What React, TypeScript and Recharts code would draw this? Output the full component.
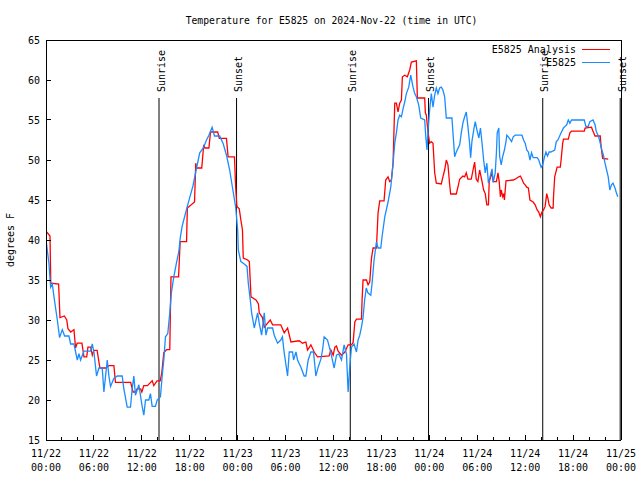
import React from "react";
import {
  LineChart, Line, XAxis, YAxis, ReferenceLine, Legend,
} from "recharts";

// observed station temps (hours since 11/22 00:00 UTC, deg F)
const obsHours = [
  0, 0.08, 0.375, 0.58, 0.79, 1, 1.2, 1.42, 1.7, 2.04, 2.33, 2.875, 3.08, 3.5, 3.92, 4.125, 4.33, 4.75, 5.58, 5.79,
  6, 6.33, 6.625, 7.04, 7.25, 7.67, 7.875, 8.08, 8.5, 8.92, 9.54, 9.75, 10.17, 10.58, 10.79, 11, 11.2, 11.625, 12.04, 12.25,
  12.46, 12.875, 13.08, 13.29, 13.7, 13.92, 14.33, 14.54, 14.75, 14.96, 15.25, 15.5, 15.7, 16, 16.33, 16.625, 16.83, 17.04, 17.25, 17.67,
  18.08, 18.4, 18.8, 19.25, 19.7, 20.1, 20.4, 20.8, 21.1, 21.75, 22.2, 22.6, 23, 23.4, 23.75, 24, 24.08, 24.4, 24.83, 25.17,
  25.33, 25.58, 25.75, 26.08, 26.3, 26.5, 26.7, 27, 27.33, 27.54, 27.75, 28.375, 28.58, 29, 29.4, 29.6, 29.83, 30.25, 30.46, 30.875,
  31, 31.3, 31.5, 31.92, 32.33, 32.54, 32.83, 33.17, 33.5, 33.79, 34.08, 34.42, 34.625, 34.83, 35.25, 35.67, 36.08, 36.375, 36.67, 37,
  37.33, 37.625, 37.83, 38.04, 38.25, 38.58, 38.875, 39.08, 39.29, 39.5, 39.7, 39.9, 40.1, 40.3, 40.67, 40.83, 41.08, 41.375, 41.58, 41.92,
  42.08, 42.42, 42.83, 43.17, 43.46, 43.67, 43.875, 44.08, 44.29, 44.5, 44.71, 44.92, 45.125, 45.42, 45.67, 45.96, 46.17, 46.375, 46.67, 46.92,
  47.42, 47.54, 47.71, 47.83, 48.04, 48.25, 48.46, 48.67, 48.875, 49.08, 49.29, 49.5, 49.7, 49.92, 50.125, 50.83, 50.96, 51.17, 51.375, 51.8,
  52, 52.2, 52.42, 52.625, 52.83, 53.04, 53.17, 53.33, 53.58, 53.75, 53.96, 54.2, 54.4, 54.6, 54.8, 55, 55.2, 55.4, 55.6, 55.85,
  56, 56.25, 56.4, 56.5, 56.7, 56.8, 57, 57.2, 57.4, 57.6, 57.7, 57.9, 58.3, 58.5, 58.75, 59.6, 59.8, 60, 60.2, 60.4,
  60.6, 60.8, 61, 61.5, 61.7, 62, 62.2, 62.4, 62.6, 62.8, 63, 63.2, 63.7, 63.9, 64.1, 64.5, 64.8, 65, 65.2, 65.4,
  65.6, 65.8, 67.4, 67.6, 67.9, 68.1, 68.5, 68.75, 68.9, 69.2, 69.4, 69.6, 69.8, 70, 70.2, 70.4, 70.6, 70.8, 71, 71.25,
  71.45, 71.6,
];
const obsTemps = [
  40, 39.4, 37, 34.1, 34.5, 32.9, 31.5, 30, 27.8, 28.8, 28, 28, 27, 27, 25, 25.8, 25, 26.1, 26.1, 27,
  26, 23, 24, 24, 21, 25, 23, 21.7, 22.7, 23, 23, 21.4, 19.1, 19.1, 21.4, 23, 20.6, 21.9, 19.2, 18.1,
  20, 20, 20.8, 19.2, 19.2, 20, 20.4, 22.9, 25, 27.9, 28.3, 30.9, 33.4, 35.4, 37.1, 38.5, 40.4, 41.7, 42.5, 44.1,
  45.6, 46.75, 48.75, 50.9, 51.5, 52.5, 53.1, 54.1, 53, 53, 52, 50.6, 48.75, 46.25, 44.1, 41.25, 38.75, 37.3, 37, 36.7,
  34.6, 32.5, 30.9, 29, 30, 30.9, 29.6, 28.1, 30.9, 28.1, 29, 29, 28.1, 27.1, 27.5, 27.9, 25.9, 23, 26, 26,
  25, 26, 25, 24.1, 23, 23, 25, 26, 26, 23, 24.1, 25.1, 26.25, 27.9, 27.5, 25.9, 24, 25.6, 25.75, 25,
  26.9, 25.75, 21, 24.2, 26.6, 27, 26, 27.5, 28.1, 29.1, 30.3, 32.5, 34, 33.4, 33.1, 34.6, 37.5, 39.75, 39, 39,
  40.4, 42.9, 44.75, 46.6, 49.6, 52.1, 53.4, 55, 55.6, 55.4, 56.4, 57.25, 58.3, 59.1, 60.6, 59.1, 58.3, 57.9, 56.9, 55.25,
  55, 53.1, 51.25, 53.6, 56.25, 58.3, 56.6, 58.1, 59, 58.3, 59, 59.1, 58.75, 57.9, 55.25, 55.25, 53.4, 50.4, 51, 51.9,
  53.4, 54.6, 55.4, 56, 54.2, 52.1, 50.3, 52.3, 53.9, 54.8, 53.75, 52.75, 54, 52.1, 50, 48.4, 49.6, 47.1, 47.9, 48.9,
  47.2, 48.4, 50.9, 53.4, 54, 50.5, 49.4, 50.5, 51.25, 52.3, 53.1, 52.9, 52.3, 52.9, 53.1, 53.1, 52.5, 52.1, 51.25, 51,
  50, 50.9, 50.3, 50.3, 50, 49.1, 49.4, 50.3, 51, 50.5, 51, 51, 51.25, 52.3, 52.5, 53.4, 54, 54.2, 54.4, 55,
  54.6, 55, 55, 54.2, 54.2, 54.8, 55, 54.4, 53.6, 52.9, 52.1, 51.25, 50.6, 49.6, 48.75, 47.9, 46.25, 46.9, 47.1, 46.5,
  45.8, 45.4,
];

// analysis temps
const anaHours = [
  0, 0.5, 0.6, 1.58, 1.75, 2.3, 2.6, 2.75, 3.1, 3.5, 3.7, 3.9, 4.5, 4.75, 5.1, 5.25, 5.6, 5.8, 6, 6.4,
  6.75, 7.5, 7.9, 8.5, 8.7, 10.6, 10.9, 11.2, 11.4, 11.85, 12, 12.25, 12.7, 13.3, 13.5, 13.9, 14.3, 14.5, 14.75, 15.1,
  15.5, 15.65, 16.6, 16.8, 17.6, 17.7, 18.6, 18.75, 18.85, 19.5, 19.75, 19.9, 20.4, 20.6, 21.5, 21.7, 22.6, 22.8, 23.6, 23.75,
  23.9, 24.2, 24.4, 24.6, 24.7, 25.25, 25.46, 25.67, 26.3, 26.6, 26.7, 27.1, 27.33, 27.75, 28.08, 28.375, 29.4, 29.83, 30.25, 30.67,
  31.7, 32.125, 32.54, 32.75, 33.17, 33.58, 34, 35.46, 35.67, 35.96, 36.17, 36.375, 36.58, 37, 37.42, 37.83, 38.25, 38.46, 38.67, 38.875,
  39.5, 39.58, 39.7, 40.125, 40.33, 40.54, 40.75, 40.96, 41.375, 41.58, 41.79, 42.33, 42.54, 42.83, 43.04, 43.25, 43.46, 43.67, 43.875, 44.08,
  44.29, 44.5, 44.625, 44.92, 45.25, 45.54, 45.75, 46.375, 46.5, 47.42, 47.5, 47.625, 47.83, 48.04, 48.25, 48.46, 48.67, 48.875, 49.5, 49.7,
  49.92, 50.125, 50.33, 50.54, 50.67, 51.375, 51.58, 51.8, 52.2, 52.42, 52.625, 52.83, 53.25, 53.67, 53.875, 54.08, 54.3, 54.5, 54.6, 54.8,
  55, 55.2, 55.4, 55.5, 55.85, 56, 56.4, 56.6, 56.75, 56.9, 57, 57.2, 57.35, 57.4, 57.6, 58.5, 58.75, 59.2, 59.4, 59.6,
  59.8, 60, 60.2, 60.4, 60.6, 61, 61.25, 61.5, 61.7, 61.9, 62.1, 62.3, 62.5, 62.7, 62.85, 63, 63.25, 63.5, 63.55, 63.7,
  64, 64.4, 64.5, 64.7, 64.8, 65.4, 65.6, 65.8, 67.4, 67.5, 68.3, 68.5, 68.75, 69.4, 69.5, 69.7, 70.4,
];
const anaTemps = [
  41.1, 40.5, 34.6, 34.5, 30.3, 30.5, 30, 28.9, 28.5, 28.8, 26.5, 27.1, 27.1, 25.4, 25.4, 26.6, 26.6, 25.6, 26.2, 26.2,
  24, 24, 24.3, 24.3, 22.2, 22.2, 21, 21, 21.4, 21.4, 21, 21.8, 21.8, 22.4, 21.8, 22.4, 22.4, 23.4, 25.9, 26.3,
  26.3, 35.4, 35.4, 39.8, 39.8, 44, 44.75, 49.6, 49, 49, 51.9, 51.5, 51.5, 53.5, 53.5, 52.7, 52.7, 50.4, 50.4, 46.6,
  44.2, 43.9, 42.5, 41.25, 37.75, 37.5, 37.3, 32.9, 32.5, 32, 30.9, 30.3, 29.1, 29.6, 30, 29.4, 29.4, 28.4, 29, 27.25,
  27.4, 27.1, 27.25, 26.25, 26.9, 26, 25.4, 25.5, 26.25, 25.6, 26.6, 26.75, 26.1, 25.6, 26, 26.9, 26.9, 27.2, 29.75, 30.1,
  30.1, 32.5, 35, 35, 34.4, 34.75, 37.7, 39, 39, 43.4, 44.9, 44.9, 47.5, 47.9, 47.3, 47.5, 49.6, 57.1, 57.1, 56,
  57.1, 57.5, 60.4, 60.6, 60.4, 61.25, 62.25, 62.4, 57.75, 57.75, 55.9, 55.6, 53.5, 52.1, 52.3, 52.1, 48.4, 47.1, 47, 47.9,
  48.75, 50, 49.4, 47, 45.75, 45.75, 46.6, 47.6, 48, 47.9, 48.4, 47.6, 47.6, 49.75, 47.6, 47.3, 48.75, 47.8, 47.3, 46.25,
  45.8, 44.4, 44.4, 47.3, 48.4, 47.3, 47.3, 48.4, 47.3, 45.4, 46.25, 45.4, 45.8, 45, 47.4, 47.5, 47.6, 47.9, 48, 47.6,
  47.1, 46.9, 46.6, 46.5, 45, 44.75, 44.4, 43.75, 43.5, 42.9, 43.5, 43.75, 44.2, 45.8, 45.2, 44.4, 44, 44, 45.4, 47.9,
  49.1, 49.1, 50, 52.1, 52.6, 52.6, 53.4, 53.6, 53.6, 54, 54.1, 53.6, 53, 53, 51.75, 50.2, 50.1,
];

const sunHours = [14.15, 23.86, 38.1, 47.9, 62.2, 71.9];
const sunNames = ["Sunrise", "Sunset", "Sunrise", "Sunset", "Sunrise", "Sunset"];
const sunTop = 57.75;

const dayLabels = ["11/22", "11/23", "11/24", "11/25"];
const hourLabels = ["00:00", "06:00", "12:00", "18:00"];
const xTicks = Array.from({ length: 37 }, (_, i) => i * 2);
const yTicks = [15, 20, 25, 30, 35, 40, 45, 50, 55, 60, 65];

const seriesNames = ["E5825 Analysis", "E5825"];
const seriesColors = ["#ff0000", "#1a8cff"];

const FONT = "'DejaVu Sans Mono', monospace";

const obsData = obsHours.map((t, i) => ({ t, v: obsTemps[i] }));
const anaData = anaHours.map((t, i) => ({ t, v: anaTemps[i] }));

// tick marks point into the plot, gnuplot style
const BottomTick = (props: any) => {
  const { x, y, payload } = props;
  const v = payload.value;
  const major = v % 6 === 0;
  const len = major ? 5 : 3;
  return (
    <g>
      <rect x={Math.floor(x)} y={Math.round(y) - len} width={1} height={len} fill="#000" shapeRendering="crispEdges" />
      {major && (
        <text x={x} y={y + 17} textAnchor="middle" fontFamily={FONT} fontSize={10} fill="#000">
          <tspan x={x}>{dayLabels[Math.floor(v / 24)]}</tspan>
          <tspan x={x} dy={14}>{hourLabels[(v % 24) / 6]}</tspan>
        </text>
      )}
    </g>
  );
};

const TopTick = (props: any) => {
  const { x, y, payload } = props;
  const len = payload.value % 6 === 0 ? 5 : 3;
  return <rect x={Math.floor(x)} y={Math.round(y)} width={1} height={len} fill="#000" shapeRendering="crispEdges" />;
};

const LeftTick = (props: any) => {
  const { x, y, payload } = props;
  return (
    <g>
      <rect x={Math.round(x) + 6} y={Math.floor(y)} width={5} height={1} fill="#000" shapeRendering="crispEdges" />
      <text x={x} y={y + 4} textAnchor="end" fontFamily={FONT} fontSize={10} fill="#000">
        {payload.value}
      </text>
    </g>
  );
};

const RightTick = (props: any) => {
  const { x, y } = props;
  return <rect x={Math.round(x) - 5} y={Math.floor(y)} width={5} height={1} fill="#000" shapeRendering="crispEdges" />;
};

const sunLabel = (text: string) => (p: any) => {
  const vb = p.viewBox || {};
  const lx = vb.x + 5.5;
  const ly = vb.y - 6;
  return (
    <text x={lx} y={ly} transform={`rotate(-90 ${lx} ${ly})`} fontFamily={FONT} fontSize={10} fill="#000">
      {text}
    </text>
  );
};

const yLabel = (p: any) => {
  const vb = p.viewBox || {};
  const lx = 14;
  const ly = vb.y + vb.height / 2;
  return (
    <text x={lx} y={ly} textAnchor="middle" transform={`rotate(-90 ${lx} ${ly})`} fontFamily={FONT} fontSize={10} fill="#000">
      degrees F
    </text>
  );
};

const LegendBox = () => (
  <div style={{ fontFamily: FONT, fontSize: 10, color: "#000" }}>
    {seriesNames.map((n, i) => (
      <div key={n} style={{ display: "flex", justifyContent: "flex-end", alignItems: "center", height: 12.5 }}>
        <span style={{ whiteSpace: "pre" }}>{n}</span>
        <span style={{ display: "inline-block", width: 28, marginLeft: 6, borderTop: `1.5px solid ${seriesColors[i]}` }} />
      </div>
    ))}
  </div>
);

const axisLine = { stroke: "#000", shapeRendering: "crispEdges" };

export default function App() {
  return (
    <div style={{ position: "fixed", left: 0, top: 0, width: 640, height: 480, background: "#fff" }}>
      <div
        style={{
          position: "absolute", top: 15, left: 331.5, transform: "translateX(-50%)",
          fontFamily: FONT, fontSize: 9.7, whiteSpace: "pre", color: "#000",
        }}
      >
        Temperature for E5825 on 2024-Nov-22 (time in UTC)
      </div>
      {/* top/right axes need a non-zero size or recharts skips them */}
      <LineChart width={640} height={480} margin={{ top: 39, right: 18, bottom: 0, left: 0 }}>
        <XAxis
          dataKey="t" type="number" domain={[0, 72]} ticks={xTicks} interval={0}
          height={40} tickSize={0} tickMargin={0} tickLine={false}
          axisLine={axisLine} tick={<BottomTick />} allowDataOverflow
        />
        <XAxis
          xAxisId="top" orientation="top" type="number" domain={[0, 72]} ticks={xTicks} interval={0}
          height={1} tickSize={0} tickMargin={0} tickLine={false}
          axisLine={axisLine} tick={<TopTick />}
        />
        <YAxis
          type="number" domain={[15, 65]} ticks={yTicks} interval={0} width={46}
          tickSize={0} tickMargin={6} tickLine={false} axisLine={axisLine}
          tick={<LeftTick />} label={yLabel}
        />
        <YAxis
          yAxisId="right" orientation="right" type="number" domain={[15, 65]} ticks={yTicks} interval={0}
          width={1} tickSize={0} tickMargin={0} tickLine={false} axisLine={axisLine}
          tick={<RightTick />}
        />
        {sunHours.map((h, i) => (
          <ReferenceLine
            key={i}
            segment={[{ x: h, y: sunTop }, { x: h, y: 15 }]}
            stroke="#000"
            strokeWidth={1}
            ifOverflow="visible"
            label={sunLabel(sunNames[i])}
          />
        ))}
        <Line
          data={anaData} dataKey="v" name={seriesNames[0]} type="linear" stroke={seriesColors[0]}
          strokeWidth={1.3} dot={false} activeDot={false} isAnimationActive={false}
        />
        <Line
          data={obsData} dataKey="v" name={seriesNames[1]} type="linear" stroke={seriesColors[1]}
          strokeWidth={1.3} dot={false} activeDot={false} isAnimationActive={false}
        />
        <Legend
          layout="horizontal" verticalAlign="middle" align="center"
          wrapperStyle={{ position: "absolute", left: 420, top: 43.5, width: 190, height: 26 }}
          content={<LegendBox />}
        />
      </LineChart>
    </div>
  );
}
